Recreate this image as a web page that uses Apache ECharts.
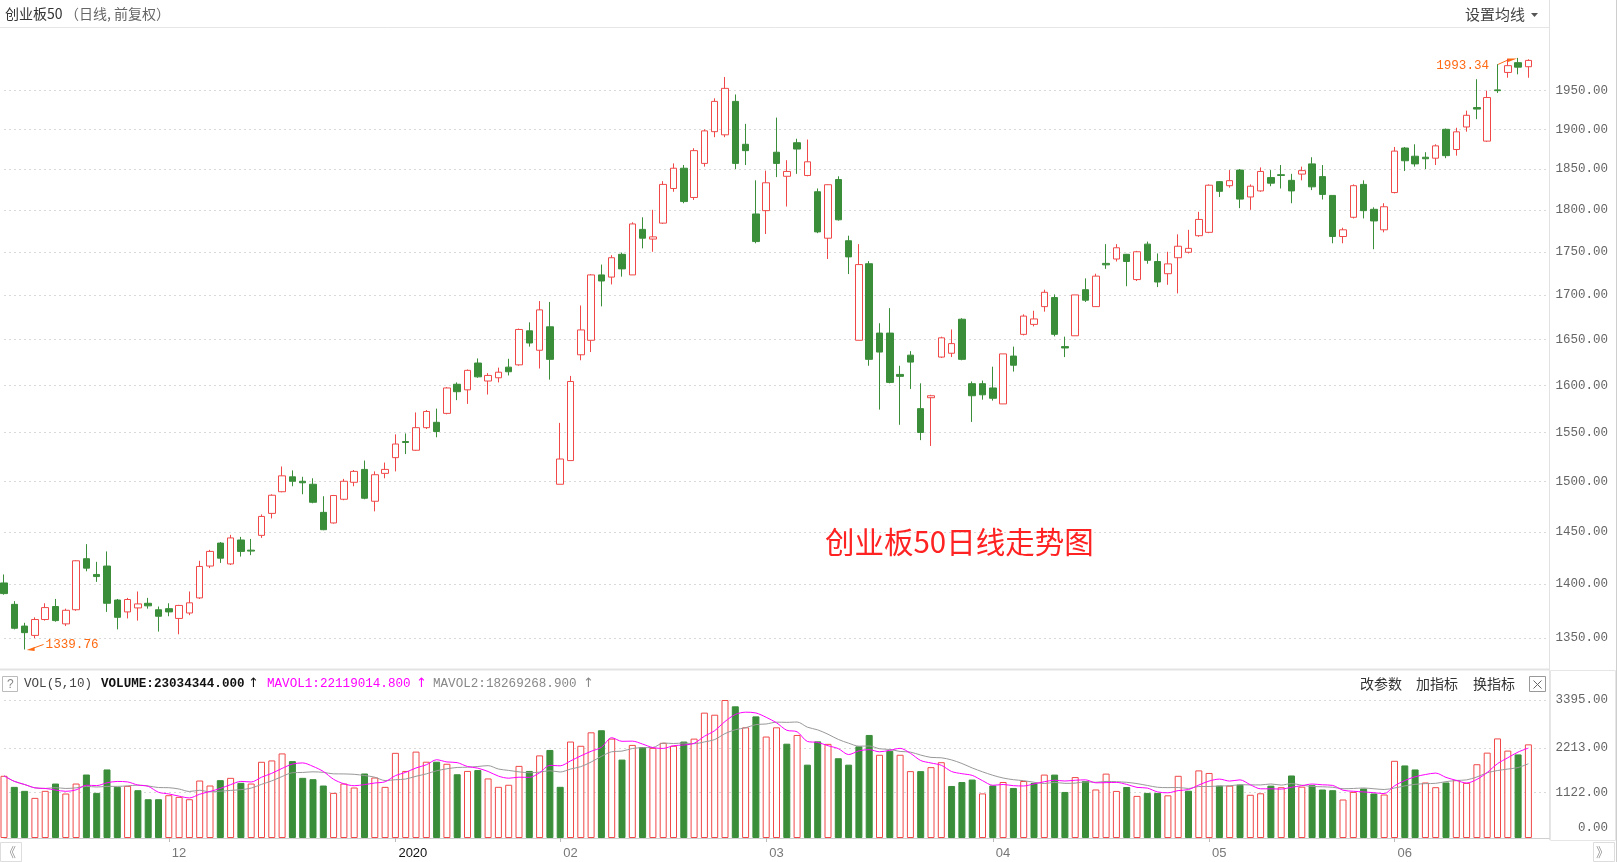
<!DOCTYPE html>
<html><head><meta charset="utf-8">
<script src="https://cdn.jsdelivr.net/npm/echarts@6/dist/echarts.min.js"></script>
<style>html,body{margin:0;padding:0;background:#fff;}#c{width:1618px;height:862px;}</style>
</head><body><div id="c"></div>
<script>
// ---- trading days (day numbers per month) ----
const nov2019 = [8,11,12,13,14,15,18,19,20,21,22,25,26,27,28,29];
const dec2019 = [2,3,4,5,6,9,10,11,12,13,16,17,18,19,20,23,24,25,26,27,30,31];
const jan2020 = [2,3,6,7,8,9,10,13,14,15,16,17,20,21,22,23];
const feb2020 = [3,4,5,6,7,10,11,12,13,14,17,18,19,20,21,24,25,26,27,28];
const mar2020 = [2,3,4,5,6,9,10,11,12,13,16,17,18,19,20,23,24,25,26,27,30,31];
const apr2020 = [1,2,3,7,8,9,10,13,14,15,16,17,20,21,22,23,24,27,28,29,30];
const may2020 = [6,7,8,11,12,13,14,15,18,19,20,21,22,25,26,27,28,29];
const jun2020 = [1,2,3,4,5,8,9,10,11,12,15,16,17,18];

// ---- OHLC ----
const openPrices = [1401,1381,1361,1352.5,1367,1379,1363,1376,1424,1409,1417,1385,1374,1377.7,1382,1376,1377,1368,1373,1387,1417,1439,1419,1442,1432.2,1446.5,1468,1489.5,1504.5,1500,1497,1469,1458.6,1482,1499,1512,1480,1508,1524,1540.6,1531.6,1555,1560.6,1570,1601,1595,1624,1604.5,1608,1619.5,1622,1659.5,1638,1664,1497,1521,1633,1649,1723,1720.5,1747,1723,1776.5,1765,1784,1826,1851,1815,1857,1897,1893,1936,1881,1795,1799,1871,1841,1883,1842,1822,1766,1837,1763,1649,1736,1657,1657,1611.6,1632.6,1575,1586.6,1630.5,1634.7,1672.5,1601.6,1601.6,1597,1580,1631.6,1655.6,1666.7,1686.7,1697,1642,1654,1706,1686.7,1736.4,1741.5,1747,1717.6,1759,1738.6,1724.4,1743,1749.4,1769,1773,1834.4,1829.4,1848.7,1815.6,1823,1839.4,1843,1836,1843.7,1856.4,1840.6,1817.5,1768,1791,1831,1800.6,1776,1821,1876.3,1866,1864.7,1863.5,1900,1874.4,1903,1928,1885,1951,1974,1987,1981.6];
const closePrices = [1391,1359,1355,1367,1378,1366,1375.5,1422,1415,1407,1382,1369,1385.5,1381.4,1379.6,1370,1374,1380,1382.4,1416.6,1431,1424.5,1444,1431,1431.3,1465,1486,1505.5,1500,1498.5,1479,1452,1485.7,1500,1510,1483,1506.6,1512,1538,1539.6,1555,1572,1551,1597,1593,1616,1609,1610.5,1614,1614.5,1661,1646,1683,1628,1522.6,1604,1660.5,1723,1716,1743,1730,1783,1766,1767.6,1831,1851,1810,1873,1898,1936,1953,1857,1873,1762,1833,1857,1847,1875,1859,1773.5,1830.6,1788,1744,1735,1628,1636,1603,1609.5,1625,1550,1588.7,1651.7,1645.3,1628,1588.7,1589.7,1586,1634,1621.6,1676,1672.8,1703,1655.6,1640.5,1700,1694,1721.6,1734.7,1754.7,1738.6,1750,1740,1714.8,1735.8,1756.5,1754,1788.4,1830,1822.5,1835.6,1813,1828.8,1847,1832.5,1842,1823,1848,1828,1818.7,1768,1776,1829.4,1799,1786.6,1803.7,1872.4,1860.3,1856.4,1862.8,1879,1866.7,1896.8,1918,1926,1941,1950,1983,1981,1990];
const lowPrices = [1390,1358,1339.76,1350,1366,1365,1361,1375,1412,1402,1374,1358,1368,1366,1377,1356,1370,1353.5,1371,1386,1415,1420,1418,1426,1427.4,1444,1463,1489,1495,1487,1478,1451.5,1458,1481,1495,1482,1470,1503,1510,1527.7,1531,1553.6,1545,1569,1584,1580,1608,1590,1603,1610.5,1621,1642,1618,1606,1497,1521,1627,1636,1687,1712,1721,1723,1754,1750,1783,1822,1808,1812,1853,1890,1890,1850,1855,1760,1771,1840,1804,1844,1841,1772,1741.5,1787,1724,1649,1621,1574,1602,1558,1596,1542,1536,1629.5,1630.5,1627,1561,1584.5,1583.5,1580,1614.7,1654.4,1664.5,1681,1653.3,1630.5,1654,1692,1686.7,1730,1738.6,1710,1716,1736,1709,1711.6,1701.7,1748,1767.7,1772,1815.6,1827,1802,1800,1822,1828.8,1826,1808,1836,1824,1812.5,1760,1760,1789.6,1789.6,1753,1773,1820,1847.5,1853,1850,1855,1863.5,1866.7,1897,1913,1884,1947,1967,1971.5,1967];
const highPrices = [1409,1384,1364,1369,1382,1386,1377,1422.5,1438,1421,1431,1386,1387,1393,1387,1379,1382,1380.5,1393,1422,1432.5,1440,1447,1445,1443,1467,1487,1515,1511,1504.5,1503,1485,1486.3,1502.4,1511.4,1521,1510,1519,1548,1549,1571,1573.5,1575,1598,1603,1617,1629,1613,1619,1628.6,1662,1669,1693,1692,1560,1610,1688,1724,1735,1746,1749,1785,1791,1800,1835,1857,1855,1876,1900,1940,1968,1945,1907,1836,1848,1915,1861,1888,1887,1826,1831,1841,1769,1759,1739,1668,1685,1621,1637,1602,1589.7,1653,1661,1673.6,1604,1605,1620,1634,1642,1678,1682,1706,1700.6,1653,1700,1719,1724.4,1759,1759,1747.5,1751,1762,1748,1750,1770.6,1776,1797.6,1831,1835,1848.7,1850,1831,1852,1848.7,1855,1844,1853,1864.7,1855,1817.5,1778.5,1831,1836,1803,1808,1877.6,1877.6,1881,1871,1881,1901,1902,1924,1965,1950,1985,1992,1993.34,1991.5];
const prevClose = 1385;

// ---- volume (unit: 10^4) ----
const volumes = [1530,1258,1160,987,1160,1340,1094,1340,1562,1110,1686,1258,1283,1176,954,954,1053,1012,954,1414,1291,1423,1480,1357,1340,1875,1908,2081,1891,1480,1447,1291,1110,1340,1242,1587,1488,1258,2095,1650,2125,1877,1877,1826,1568,1650,1671,1465,1259,1310,1774,1650,2032,2166,1259,2373,2269,2600,2651,2445,1929,2290,2238,2218,2342,2269,2373,2445,3084,3033,3395,3239,2723,2992,2496,2723,2320,2535,1804,2377,2316,1962,1804,2255,2535,2048,2145,2048,1645,1645,1743,1865,1280,1377,1438,1097,1292,1377,1231,1402,1353,1560,1560,1133,1499,1402,1194,1584,1158,1255,1036,1109,1109,1050,1530,1163,1663,1600,1288,1288,1313,1063,1100,1288,1250,1538,1263,1299,1193,1176,947,1134,1218,1095,1070,1899,1785,1686,1366,1250,1366,1423,1356,1814.7615,2100,2450,2150,2056.073,2303.4344];

const priceTicks = [1350,1400,1450,1500,1550,1600,1650,1700,1750,1800,1850,1900,1950];
const volumeTicks = [0,1122,2213,3395];
const chartTitle = '创业板50日线走势图';

const RED = '#f04848', GREEN = '#3a8e3a';
function pad(n){return (n<10?'0':'')+n;}
const monthGroups = [['2019-11',nov2019],['2019-12',dec2019],['2020-01',jan2020],['2020-02',feb2020],['2020-03',mar2020],['2020-04',apr2020],['2020-05',may2020],['2020-06',jun2020]];
const dates = [];
monthGroups.forEach(([m, days]) => days.forEach(d => dates.push(m + '-' + pad(d))));

const candleData = openPrices.map((o,i) => [o, closePrices[i], lowPrices[i], highPrices[i]]);
const volData = volumes.map((v,i) => {
  const pc = i === 0 ? prevClose : closePrices[i-1];
  const up = closePrices[i] >= pc;
  return {value: v, itemStyle: up ? {color:'#fff', borderColor: RED, borderWidth: 1} : {color: GREEN, borderColor: GREEN, borderWidth: 1}};
});
function movingAvg(n){
  return volumes.map((v,i) => { const s = Math.max(0, i-n+1); let sum = 0; for (let j=s;j<=i;j++) sum += volumes[j]; return sum/(i-s+1); });
}
const ma5 = movingAvg(5), ma10 = movingAvg(10);
const isMonthStart = (idx) => idx > 0 && idx < dates.length && dates[idx].slice(0,7) !== dates[idx-1].slice(0,7);

const chart = echarts.init(document.getElementById('c'), null, {renderer:'canvas'});
const monoFont = '"Liberation Mono","DejaVu Sans Mono",monospace';
const splitStyle = {show:true, lineStyle:{color:'#d9d9d9', type:[2,3], width:1}};

chart.setOption({
  animation: false,
  backgroundColor: '#fff',
  title: {text: chartTitle, left: 820, top: 522, textStyle: {color:'#ff2222', fontSize: 29.5, fontWeight:'normal', fontFamily:'"Noto Sans CJK SC", sans-serif'}},
  grid: [
    {left: 4, top: 28, width: 1545, height: 624},
    {left: 4, top: 700, width: 1545, height: 138}
  ],
  xAxis: [
    {type:'category', gridIndex:0, data: dates, boundaryGap:false, max: dates.length + 1,
     axisLine:{show:false}, axisTick:{show:false}, axisLabel:{show:false}, splitLine:{show:false}},
    {type:'category', gridIndex:1, data: dates, boundaryGap:false, max: dates.length + 1,
     axisLine:{show:true, lineStyle:{color:'#cfcfcf'}},
     axisTick:{show:true, interval: (i) => isMonthStart(i), length: 4, lineStyle:{color:'#bbb'}},
     axisLabel:{show:true, interval: (i) => isMonthStart(i), align:'left', margin: 9, padding:[0,0,0,3],
       formatter: (v) => v ? (v.slice(5,7) === '01' ? '{y|' + v.slice(0,4) + '}' : v.slice(5,7)) : '',
       color:'#777', fontSize: 13, fontFamily:'"Liberation Sans", Arial, sans-serif',
       rich:{y:{color:'#111', fontSize:13, fontFamily:'"Liberation Sans", Arial, sans-serif'}}},
     splitLine:{show:false}}
  ],
  yAxis: [
    {type:'log', gridIndex:0, position:'right', min: 1337.5, max: 2033.8,
     axisLine:{show:false}, axisTick:{show:false, customValues: priceTicks},
     axisLabel:{customValues: priceTicks, align:'right', margin: 59, color:'#666', fontSize: 12.5, fontFamily: monoFont,
       formatter: (v) => Number(v).toFixed(2)},
     splitLine: splitStyle},
    {type:'value', gridIndex:1, position:'right', min: 0, max: 3395,
     axisLine:{show:false}, axisTick:{show:false, customValues: volumeTicks},
     axisLabel:{customValues: volumeTicks, align:'right', margin: 59, color:'#666', fontSize: 12.5, fontFamily: monoFont,
       formatter: (v) => v === 0 ? '{z|0.00}' : Number(v).toFixed(2),
       rich:{z:{padding:[0,0,20,0], color:'#666', fontSize:12.5, fontFamily: monoFont}}},
     splitLine: splitStyle}
  ],
  series: [
    {type:'candlestick', xAxisIndex:0, yAxisIndex:0, data: candleData, barWidth: 7,
     itemStyle:{color:'#fff', color0: GREEN, borderColor: RED, borderColor0: GREEN, borderWidth: 1}},
    {type:'bar', xAxisIndex:1, yAxisIndex:1, data: volData, barWidth: 7},
    {type:'line', xAxisIndex:1, yAxisIndex:1, data: ma10, symbol:'none', smooth: 0.3, lineStyle:{color:'#999', width:1}},
    {type:'line', xAxisIndex:1, yAxisIndex:1, data: ma5, symbol:'none', smooth: 0.3, lineStyle:{color:'#ff00ff', width:1}}
  ]
});

// ---- annotations & chrome ----
let maxIdx = 0, minIdx = 0;
highPrices.forEach((h,i) => { if (h > highPrices[maxIdx]) maxIdx = i; });
lowPrices.forEach((l,i) => { if (l < lowPrices[minIdx]) minIdx = i; });
const pMax = chart.convertToPixel({gridIndex:0}, [maxIdx, highPrices[maxIdx]]);
const pMin = chart.convertToPixel({gridIndex:0}, [minIdx, lowPrices[minIdx]]);
const ORANGE = '#ff6a13';
const last = volumes.length - 1;
const fmt = (v) => (v * 10000).toFixed(3);
const g = [];
function line(x1,y1,x2,y2,color,w){ g.push({type:'line', silent:true, shape:{x1,y1,x2,y2}, style:{stroke:color, lineWidth:w||1}}); }
function text(x,y,t,opt){ g.push({type:'text', silent:true, x, y, style:Object.assign({text:t, fill:'#333', font:'14px "Noto Sans CJK SC", sans-serif', verticalAlign:'middle'}, opt||{})}); }
function rect(x,y,w,h,stroke){ g.push({type:'rect', silent:true, shape:{x,y,width:w,height:h}, style:{fill:'none', stroke:stroke||'#ccc', lineWidth:1}}); }

// header
line(0, 27.5, 1549, 27.5, '#e6e6e6');
text(5, 14, '创业板50', {fill:'#333', font:'14px "Noto Sans CJK SC", sans-serif'});
text(65, 14, '（日线, 前复权）', {fill:'#666', font:'14px "Noto Sans CJK SC", sans-serif'});
text(1465, 14, '设置均线', {fill:'#444', font:'15px "Noto Sans CJK SC", sans-serif'});
g.push({type:'polygon', silent:true, shape:{points:[[1531,13],[1538,13],[1534.5,17]]}, style:{fill:'#555'}});
// frame lines
line(1549.5, 0, 1549.5, 840, '#e2e2e2');
line(1616.5, 0, 1616.5, 862, '#cfcfcf');
line(0, 669.5, 1549, 669.5, '#e3e3e3', 2);
rect(1550.5, 670.5, 65, 170, '#e6e6e6');
// volume legend
rect(2.5, 676.5, 15, 15, '#bbb');
text(7, 684.5, '?', {fill:'#888', font:'12px "Liberation Sans", sans-serif'});
text(24, 684, 'VOL(5,10)', {fill:'#444', font:'12.6px ' + monoFont});
text(101, 684, 'VOLUME:' + fmt(volumes[last]), {fill:'#111', font:'bold 12.6px ' + monoFont});
text(248, 684, '↑', {fill:'#111', font:'13px "DejaVu Sans", sans-serif'});
text(267, 684, 'MAVOL1:' + fmt(ma5[last]), {fill:'#ff00ff', font:'12.6px ' + monoFont});
text(416, 684, '↑', {fill:'#ff00ff', font:'13px "DejaVu Sans", sans-serif'});
text(433, 684, 'MAVOL2:' + fmt(ma10[last]), {fill:'#888', font:'12.6px ' + monoFont});
text(583, 684, '↑', {fill:'#888', font:'13px "DejaVu Sans", sans-serif'});
text(1360, 684, '改参数', {fill:'#333', font:'14px "Noto Sans CJK SC", sans-serif'});
text(1416, 684, '加指标', {fill:'#333', font:'14px "Noto Sans CJK SC", sans-serif'});
text(1473, 684, '换指标', {fill:'#333', font:'14px "Noto Sans CJK SC", sans-serif'});
rect(1529.5, 676.5, 16, 15, '#999');
line(1533.5, 680.5, 1541.5, 688.5, '#666');
line(1541.5, 680.5, 1533.5, 688.5, '#666');
// scroll buttons
rect(0.5, 842.5, 21, 19, '#ddd');
text(3, 852, '《', {fill:'#999', font:'13px "Noto Sans CJK SC", sans-serif'});
rect(1593.5, 842.5, 21, 19, '#ddd');
text(1596, 852, '》', {fill:'#999', font:'13px "Noto Sans CJK SC", sans-serif'});
// max annotation
text(pMax[0] - 29, pMax[1] + 7.5, highPrices[maxIdx].toFixed(2), {fill: ORANGE, font:'12.6px ' + monoFont, align:'right'});
line(pMax[0] - 20, pMax[1] + 6.5, pMax[0] - 10, pMax[1] + 2, ORANGE);
g.push({type:'polygon', silent:true, shape:{points:[[pMax[0]-1, pMax[1]+0.5],[pMax[0]-11, pMax[1]+0.5],[pMax[0]-10, pMax[1]+4]]}, style:{fill: ORANGE}});
// min annotation
text(pMin[0] + 21, pMin[1] - 4.5, lowPrices[minIdx].toFixed(2), {fill: ORANGE, font:'12.6px ' + monoFont, align:'left'});
line(pMin[0] + 19, pMin[1] - 5, pMin[0] + 9, pMin[1] - 1.5, ORANGE);
g.push({type:'polygon', silent:true, shape:{points:[[pMin[0]+2, pMin[1]+0.5],[pMin[0]+10, pMin[1]-2.5],[pMin[0]+10, pMin[1]+1.5]]}, style:{fill: ORANGE}});

chart.setOption({graphic: g});
</script>
</body></html>
